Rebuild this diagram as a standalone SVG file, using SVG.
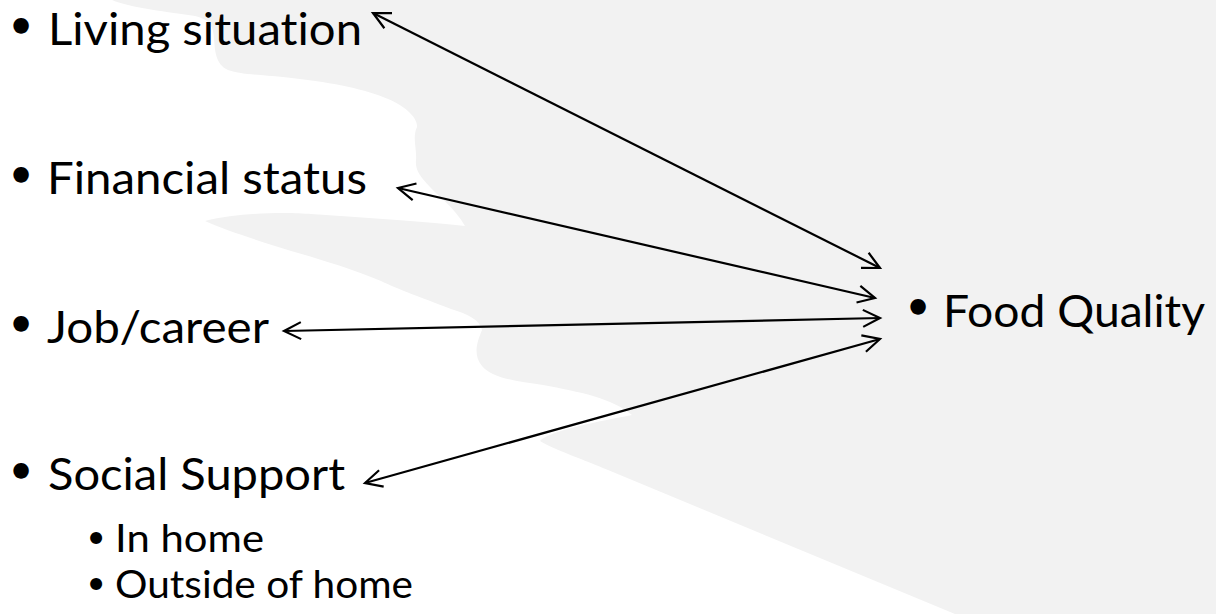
<svg xmlns="http://www.w3.org/2000/svg" width="1216" height="614" viewBox="0 0 1216 614">
  <style>
    .lbl { font-family: Lato, "Liberation Sans", sans-serif; fill: #000; font-variant-ligatures: none; font-feature-settings: "liga" 0; }
    .l1 { font-size: 45px; }
    .l2 { font-size: 39.5px; }
    .bul1 { font-family: "DejaVu Sans", sans-serif; font-weight: bold; font-size: 44px; text-anchor: middle; }
    .bul2 { font-family: "DejaVu Sans", sans-serif; font-weight: bold; font-size: 34px; text-anchor: middle; }
    .link { fill: none; stroke: #000; stroke-width: 2.2; marker-start: url(#vhead); marker-end: url(#vhead); }
  </style>
  <defs>
    <marker id="vhead" markerUnits="userSpaceOnUse" markerWidth="40" markerHeight="40" viewBox="-20 -20 40 40" refX="0" refY="0" orient="auto-start-reverse" overflow="visible">
      <path d="M-17,-8.5 L0,0 L-17,8.5" fill="none" stroke="#000" stroke-width="2.2" stroke-linejoin="miter"/>
    </marker>
  </defs>

  <rect width="1216" height="614" fill="#ffffff"/>

  <!-- soft grey silhouette behind the list -->
  <path id="backdrop" fill="#f2f2f2" d="M112,0 H1216 V614 H955
    L608,470
    C585,460 555,450 540,441
    C548,432 585,424 632,415
    C612,398 580,392 543,385
    C515,381 492,378 482,366
    C472,354 478,340 482,330
    C480,320 468,314 451,309
    C420,297 400,290 381,281
    C340,264 300,254 275,246
    C250,238 220,228 205,221
    C240,212 290,212 311,214
    C370,218 430,222 465,226
    C455,208 437,195 430,187
    C420,176 415,170 416,160
    C417,148 412,138 417,127
    C418,118 405,105 383,97
    C360,88 330,82 283,77
    C260,75 238,74 228,70
    C215,64 215,50 214,38
    C213,25 210,20 195,16
    C170,12 130,8 112,0 Z"/>

  <g id="connectors">
    <line class="link" x1="373" y1="13" x2="880" y2="268"/>
    <line class="link" x1="398" y1="188" x2="875" y2="298"/>
    <line class="link" x1="284" y1="331" x2="880" y2="318"/>
    <line class="link" x1="365" y1="483" x2="880" y2="339"/>
  </g>

  <g id="living-situation">
    <text class="lbl bul1" x="21" y="42">•</text>
    <text class="lbl l1" x="48" y="45" textLength="314" lengthAdjust="spacingAndGlyphs">Living situation</text>
  </g>
  <g id="financial-status">
    <text class="lbl bul1" x="21" y="191">•</text>
    <text class="lbl l1" x="47" y="194" textLength="320" lengthAdjust="spacingAndGlyphs">Financial status</text>
  </g>
  <g id="job-career">
    <text class="lbl bul1" x="21" y="340">•</text>
    <text class="lbl l1" x="47" y="343" textLength="222" lengthAdjust="spacingAndGlyphs">Job/career</text>
  </g>
  <g id="social-support">
    <text class="lbl bul1" x="21" y="487">•</text>
    <text class="lbl l1" x="48" y="490" textLength="297" lengthAdjust="spacingAndGlyphs">Social Support</text>
    <text class="lbl bul2" x="96" y="551">•</text>
    <text class="lbl l2" x="115" y="552" textLength="149" lengthAdjust="spacingAndGlyphs">In home</text>
    <text class="lbl bul2" x="96" y="597">•</text>
    <text class="lbl l2" x="115" y="598" textLength="298" lengthAdjust="spacingAndGlyphs">Outside of home</text>
  </g>
  <g id="food-quality">
    <text class="lbl bul1" x="918" y="323">•</text>
    <text class="lbl l1" x="943" y="327" textLength="262" lengthAdjust="spacingAndGlyphs">Food Quality</text>
  </g>
</svg>
